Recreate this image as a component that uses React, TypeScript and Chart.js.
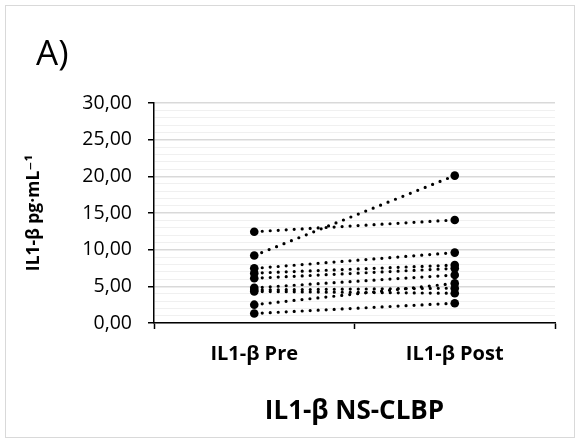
import React, { useEffect, useRef } from "react";
import { Chart, registerables } from "chart.js";

Chart.register(...registerables);

const categories = ["IL1-β Pre", "IL1-β Post"];
const preValues = [12.45, 9.2, 7.45, 6.8, 6.1, 4.8, 4.5, 4.3, 2.5, 1.3];
const postValues = [14.05, 20.1, 9.6, 7.9, 7.45, 6.55, 4.75, 4.05, 5.4, 2.7];
const yTickMax = 30;
const yTitle = "IL1-β pg·mL⁻¹";
const xTitle = "IL1-β NS-CLBP";
const panelLabel = "A)";

const FONT = "'Open Sans', 'DejaVu Sans', sans-serif";

export default function App() {
  const ref = useRef<HTMLCanvasElement | null>(null);

  useEffect(() => {
    document.body.style.margin = "0";
    const canvas = ref.current;
    if (!canvas) return;

    const datasets = preValues.map((pre, i) => ({
      label: "S" + (i + 1),
      data: [pre, postValues[i]],
      borderColor: "#000000",
      backgroundColor: "#000000",
      borderWidth: 3.2,
      borderDash: [0, 8],
      borderCapStyle: "round" as const,
      pointRadius: 4.3,
      pointHoverRadius: 4.3,
      pointBorderWidth: 0,
      pointBackgroundColor: "#000000",
      fill: false,
      tension: 0,
    }));

    const panelPlugin = {
      id: "panelLabel",
      afterDraw(chart: any) {
        const c = chart.ctx;
        c.save();
        c.fillStyle = "#000";
        c.font = `35px ${FONT}`;
        c.textBaseline = "alphabetic";
        c.textAlign = "left";
        c.fillText(panelLabel, 30, 59);
        c.restore();
      },
    };

    const chart = new Chart(canvas, {
      type: "line",
      data: { labels: categories, datasets },
      plugins: [panelPlugin],
      options: {
        responsive: false,
        animation: false,
        devicePixelRatio: 1,
        layout: { padding: { left: 0, top: 97, right: 19, bottom: 0 } },
        plugins: {
          legend: { display: false },
          tooltip: { enabled: false },
          title: { display: false },
        },
        scales: {
          x: {
            type: "category",
            offset: true,
            afterFit: (s: any) => {
              s.height = 114;
            },
            border: { color: "#000", width: 1.5 },
            grid: {
              offset: true,
              drawOnChartArea: false,
              drawTicks: true,
              tickLength: 6,
              tickColor: "#000",
              tickWidth: 1.5,
            },
            ticks: {
              color: "#000",
              padding: 13,
              font: { family: FONT, size: 20, weight: "bold" },
            },
            title: {
              display: true,
              text: xTitle,
              color: "#000",
              font: { family: FONT, size: 26, weight: "bold" },
              padding: { top: 0, bottom: 10 },
            },
          },
          y: {
            type: "linear",
            min: 0,
            max: yTickMax,
            afterFit: (s: any) => {
              s.width = 148;
            },
            border: { color: "#000", width: 1.5 },
            grid: {
              drawOnChartArea: true,
              drawTicks: true,
              tickLength: 6,
              color: (ctx: any) =>
                ctx.tick && ctx.tick.value % 5 === 0 ? "#d9d9d9" : "#f0f0f0",
              lineWidth: (ctx: any) =>
                ctx.tick && ctx.tick.value % 5 === 0 ? 1.5 : 1,
              tickColor: (ctx: any) =>
                ctx.tick && ctx.tick.value % 5 === 0 ? "#000" : "rgba(0,0,0,0)",
              tickWidth: 1.5,
            },
            ticks: {
              stepSize: 1,
              autoSkip: false,
              maxTicksLimit: 100,
              color: "#000",
              padding: 16,
              font: { family: FONT, size: 19.5 },
              callback: (v: any) =>
                Number(v) % 5 === 0 ? Number(v).toFixed(2).replace(".", ",") : "",
            },
            title: {
              display: true,
              text: yTitle,
              color: "#000",
              font: { family: FONT, size: 17.5, weight: "bold" },
              padding: { top: 18, bottom: 0 },
            },
          },
        },
      },
    });

    return () => chart.destroy();
  }, []);

  return (
    <div style={{ position: "relative", width: 579, height: 443, background: "#fff" }}>
      <div
        style={{
          position: "absolute",
          left: 5,
          top: 5,
          width: 568,
          height: 431,
          border: "1px solid #d9d9d9",
          background: "#fff",
        }}
      >
        <canvas ref={ref} width={568} height={431} style={{ display: "block" }} />
      </div>
    </div>
  );
}
